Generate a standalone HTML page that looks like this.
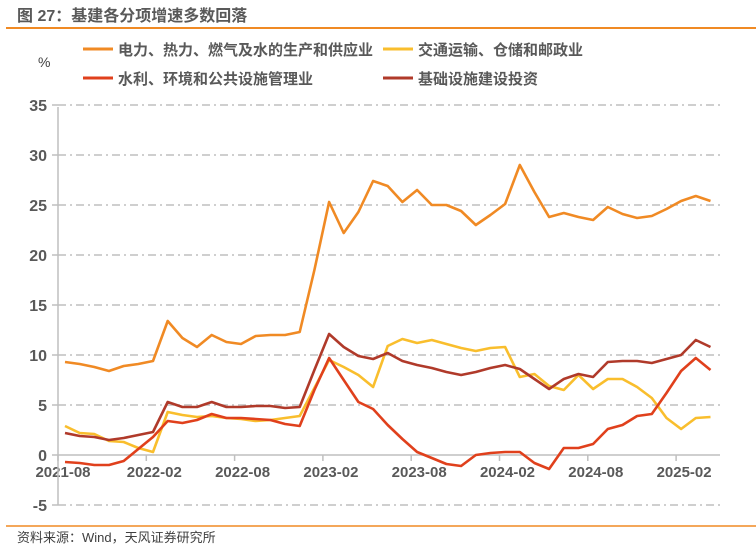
<!DOCTYPE html>
<html><head><meta charset="utf-8"><style>
body{margin:0;background:#fff;}
svg text{font-family:"Liberation Sans","Noto Sans CJK SC",sans-serif;}
</style></head><body>
<svg id="s" width="756" height="548" viewBox="0 0 756 548" xmlns="http://www.w3.org/2000/svg">
<text x="17" y="21" font-size="16" font-weight="bold" fill="#595959">图 27：基建各分项增速多数回落</text>
<line x1="6" y1="28" x2="756" y2="28" stroke="#F08A24" stroke-width="2"/>
<text x="38" y="67" font-size="14" fill="#404040">%</text>
<line x1="83" y1="49" x2="113" y2="49" stroke="#F08A24" stroke-width="3"/>
<text x="118" y="55" font-size="15" font-weight="bold" fill="#595959">电力、热力、燃气及水的生产和供应业</text>
<line x1="383" y1="49" x2="413" y2="49" stroke="#F9BE2D" stroke-width="3"/>
<text x="418" y="55" font-size="15" font-weight="bold" fill="#595959">交通运输、仓储和邮政业</text>
<line x1="83" y1="78" x2="113" y2="78" stroke="#E0401C" stroke-width="3"/>
<text x="118" y="84" font-size="15" font-weight="bold" fill="#595959">水利、环境和公共设施管理业</text>
<line x1="383" y1="78" x2="413" y2="78" stroke="#B03A2A" stroke-width="3"/>
<text x="418" y="84" font-size="15" font-weight="bold" fill="#595959">基础设施建设投资</text>
<g id="grid"></g>
<line x1="58" y1="107" x2="58" y2="505" stroke="#bfbfbf" stroke-width="1.5"/>
<line x1="58" y1="455" x2="720" y2="455" stroke="#bfbfbf" stroke-width="1.5"/>
<g id="lines"></g>
<line x1="6" y1="526" x2="756" y2="526" stroke="#F08A24" stroke-width="1.5"/>
<text x="17" y="542" font-size="13" fill="#404040">资料来源：Wind，天风证券研究所</text>
</svg>
<script>
var ns="http://www.w3.org/2000/svg",s=document.getElementById('s'),g=document.getElementById('grid'),L=document.getElementById('lines');
function el(p,t,a,txt){var e=document.createElementNS(ns,t);for(var k in a)e.setAttribute(k,a[k]);if(txt)e.textContent=txt;p.appendChild(e);return e;}
for(var v=-5;v<=35;v+=5){var y=455-10*v;
 if(v!=0)el(g,'line',{x1:58,y1:y,x2:720,y2:y,stroke:'#bfbfbf','stroke-width':1.5,'stroke-dasharray':'8 4 2 4'});
 el(g,'text',{x:47,y:y+6,'font-size':16,'font-weight':'bold',fill:'#595959','text-anchor':'end'},String(v));
 el(g,'line',{x1:52,y1:y,x2:58,y2:y,stroke:'#bfbfbf','stroke-width':1.5});}
var lab=['2021-08','2022-02','2022-08','2023-02','2023-08','2024-02','2024-08','2025-02'];
for(var i=0;i<8;i++){var x=58+88.3*i;
 el(g,'line',{x1:x,y1:455,x2:x,y2:461,stroke:'#bfbfbf','stroke-width':1.5});
 el(g,'text',{x:x+(i==0?5:8),y:477,'font-size':15,'font-weight':'bold',fill:'#595959','text-anchor':'middle'},lab[i]);}
var D={
'#F9BE2D':[2.9,2.2,2.1,1.4,1.3,0.7,0.3,4.3,4.0,3.8,3.9,3.7,3.6,3.4,3.5,3.7,3.9,6.7,9.5,8.8,8.0,6.8,10.9,11.6,11.2,11.5,11.1,10.7,10.4,10.7,10.8,7.8,8.1,6.9,6.5,8.0,6.6,7.6,7.6,6.8,5.7,3.7,2.6,3.7,3.8],
'#B03A2A':[2.2,1.9,1.8,1.5,1.7,2.0,2.3,5.3,4.8,4.8,5.3,4.8,4.8,4.9,4.9,4.7,4.8,8.5,12.1,10.8,9.9,9.6,10.2,9.4,9.0,8.7,8.3,8.0,8.3,8.7,9.0,8.6,7.6,6.6,7.6,8.1,7.8,9.3,9.4,9.4,9.2,9.6,10.0,11.5,10.8],
'#E0401C':[-0.7,-0.8,-1.0,-1.0,-0.6,0.6,1.8,3.4,3.2,3.5,4.1,3.7,3.7,3.6,3.5,3.1,2.9,6.5,9.7,7.5,5.3,4.6,3.0,1.6,0.3,-0.3,-0.9,-1.1,0.0,0.2,0.3,0.3,-0.8,-1.4,0.7,0.7,1.1,2.6,3.0,3.9,4.1,6.2,8.4,9.7,8.5],
'#F08A24':[9.3,9.1,8.8,8.4,8.9,9.1,9.4,13.4,11.7,10.8,12.0,11.3,11.1,11.9,12.0,12.0,12.3,18.5,25.3,22.2,24.3,27.4,26.9,25.3,26.5,25.0,25.0,24.4,23.0,24.0,25.1,29.0,26.3,23.8,24.2,23.8,23.5,24.8,24.1,23.7,23.9,24.6,25.4,25.9,25.4]};
for(var c in D){var p=D[c].map(function(v,i){return (65+14.67*i).toFixed(1)+','+(455-10*v).toFixed(1)}).join(' ');
 el(L,'polyline',{points:p,fill:'none',stroke:c,'stroke-width':2.6,'stroke-linejoin':'round'});}
</script>
</body></html>
